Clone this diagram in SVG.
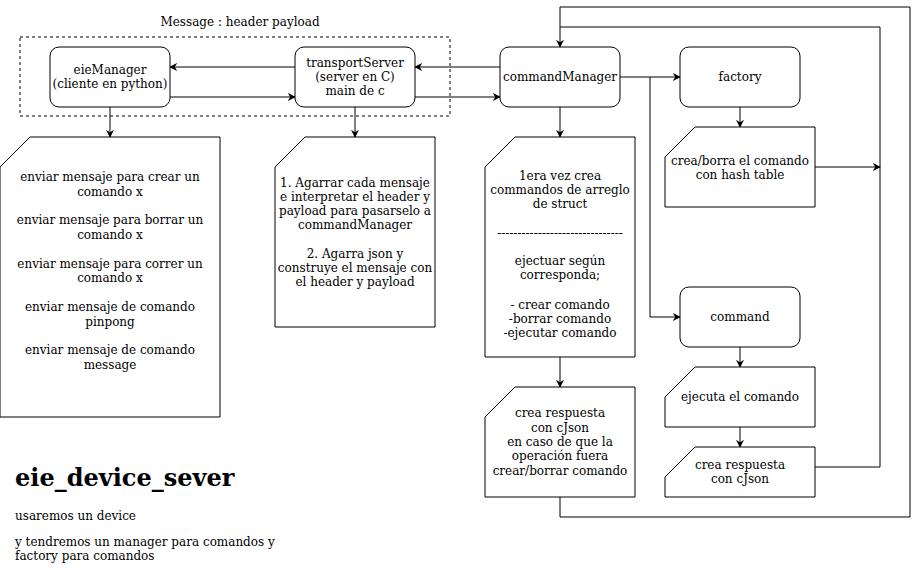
<svg xmlns="http://www.w3.org/2000/svg" width="919" height="578" viewBox="0 0 919 578">
<defs>
<marker id="ar" viewBox="0 0 10 10" refX="9" refY="5" markerWidth="8" markerHeight="8" markerUnits="userSpaceOnUse" orient="auto">
<path d="M0,0 L10,5 L0,10 L3,5 Z" fill="#000"/>
</marker>
</defs>
<style>
.n{fill:#fff;stroke:#000;stroke-width:1}
.e{fill:none;stroke:#000;stroke-width:1;marker-end:url(#ar)}
.l{fill:none;stroke:#000;stroke-width:1}
text{font-family:"DejaVu Serif",serif;font-size:12px;fill:#000}
.c{text-anchor:middle}
</style>
<rect width="919" height="578" fill="#fff"/>
<g id="frame">
<rect x="20" y="37" width="430" height="79" fill="none" stroke="#000" stroke-dasharray="3,3"/>
<text class="c" x="240" y="26">Message : header payload</text>
</g>
<g id="connectors">
<path class="e" d="M295,67 H170"/>
<path class="e" d="M170,97 H295"/>
<path class="e" d="M500,67 H415"/>
<path class="e" d="M415,97 H500"/>
<path class="e" d="M620,77 H680"/>
<path class="e" d="M650,77 V317 H680"/>
<path class="e" d="M110,107 V137"/>
<path class="e" d="M355,107 V137"/>
<path class="e" d="M560,107 V137"/>
<path class="e" d="M560,357 V387"/>
<path class="e" d="M740,107 V127"/>
<path class="e" d="M740,347 V367"/>
<path class="e" d="M740,427 V447"/>
<path class="e" d="M815,167 H880"/>
<path class="l" d="M815,467 H880 V27 H560"/>
<path class="e" d="M560,497 V517 H910 V7 H560 V47"/>
</g>
<g id="eieManager">
<rect class="n" x="50" y="47" width="120" height="60" rx="9"/>
<text class="c" x="110" y="74">eieManager</text>
<text class="c" x="110" y="88">(cliente en python)</text>
</g>
<g id="transportServer">
<rect class="n" x="295" y="47" width="120" height="60" rx="9"/>
<text class="c" x="355" y="67">transportServer</text>
<text class="c" x="355" y="81">(server en C)</text>
<text class="c" x="355" y="95">main de c</text>
</g>
<g id="commandManager">
<rect class="n" x="500" y="47" width="120" height="60" rx="9"/>
<text class="c" x="560" y="81">commandManager</text>
</g>
<g id="factory">
<rect class="n" x="680" y="47" width="120" height="60" rx="9"/>
<text class="c" x="740" y="81">factory</text>
</g>
<g id="command">
<rect class="n" x="680" y="287" width="120" height="60" rx="9"/>
<text class="c" x="740" y="321">command</text>
</g>
<g id="clientDoc">
<path class="n" d="M30,137 H220 V417 H0 V167 Z"/>
<text class="c" x="110" y="181">enviar mensaje para crear un</text>
<text class="c" x="110" y="196">comando x</text>
<text class="c" x="110" y="224">enviar mensaje para borrar un</text>
<text class="c" x="110" y="239">comando x</text>
<text class="c" x="110" y="268">enviar mensaje para correr un</text>
<text class="c" x="110" y="282">comando x</text>
<text class="c" x="110" y="311">enviar mensaje de comando</text>
<text class="c" x="110" y="326">pinpong</text>
<text class="c" x="110" y="354">enviar mensaje de comando</text>
<text class="c" x="110" y="369">message</text>
</g>
<g id="serverDoc">
<path class="n" d="M305,137 H435 V327 H275 V167 Z"/>
<text class="c" x="355" y="187">1. Agarrar cada mensaje</text>
<text class="c" x="355" y="201">e interpretar el header y</text>
<text class="c" x="355" y="215">payload para pasarselo a</text>
<text class="c" x="355" y="229">commandManager</text>
<text class="c" x="355" y="258">2. Agarra json y</text>
<text class="c" x="355" y="272">construye el mensaje con</text>
<text class="c" x="355" y="286">el header y payload</text>
</g>
<g id="managerDoc">
<path class="n" d="M515,137 H635 V357 H485 V167 Z"/>
<text class="c" x="560" y="180">1era vez crea</text>
<text class="c" x="560" y="194">commandos de arreglo</text>
<text class="c" x="560" y="208">de struct</text>
<text class="c" x="560" y="237">-------------------------------</text>
<text class="c" x="560" y="265">ejectuar según</text>
<text class="c" x="560" y="279">corresponda;</text>
<text class="c" x="560" y="309">- crear comando</text>
<text class="c" x="560" y="323">-borrar comando</text>
<text class="c" x="560" y="337">-ejecutar comando</text>
</g>
<g id="factoryDoc">
<path class="n" d="M695,127 H815 V207 H665 V157 Z"/>
<text class="c" x="740" y="165">crea/borra el comando</text>
<text class="c" x="740" y="179">con hash table</text>
</g>
<g id="ejecutaDoc">
<path class="n" d="M695,367 H815 V427 H665 V397 Z"/>
<text class="c" x="740" y="401">ejecuta el comando</text>
</g>
<g id="respuestaRight">
<path class="n" d="M695,447 H815 V497 H665 V477 Z"/>
<text class="c" x="740" y="469">crea respuesta</text>
<text class="c" x="740" y="483">con cJson</text>
</g>
<g id="respuestaLeft">
<path class="n" d="M515,387 H635 V497 H485 V417 Z"/>
<text class="c" x="560" y="417">crea respuesta</text>
<text class="c" x="560" y="432">con cJson</text>
<text class="c" x="560" y="446">en caso de que la</text>
<text class="c" x="560" y="460">operación fuera</text>
<text class="c" x="560" y="475">crear/borrar comando</text>
</g>
<g id="notes">
<text x="15" y="486" style="font-size:24px;font-weight:bold">eie_device_sever</text>
<text x="15" y="520">usaremos un device</text>
<text x="15" y="546">y tendremos un manager para comandos y</text>
<text x="15" y="560">factory para comandos</text>
</g>
</svg>
